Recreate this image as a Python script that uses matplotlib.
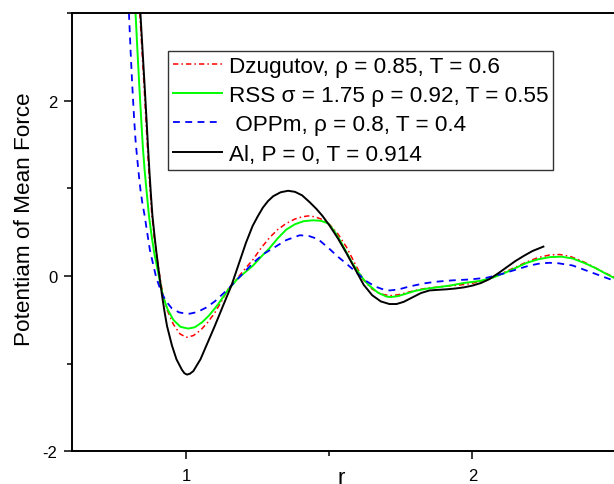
import matplotlib
matplotlib.use("Agg")
import matplotlib.pyplot as plt
from matplotlib.ticker import MultipleLocator

plt.rcParams['font.family'] = ['Liberation Sans', 'DejaVu Sans']
plt.rcParams['axes.unicode_minus'] = False

# Dzugutov, rho = 0.85, T = 0.6
r_dz = [0.838, 0.846, 0.854, 0.860, 0.865, 0.870, 0.875, 0.880, 0.888, 0.896, 0.903,
        0.911, 0.920, 0.935, 0.955, 0.978, 1.000, 1.025, 1.050, 1.075, 1.100, 1.125,
        1.146, 1.170, 1.200, 1.234, 1.262, 1.292, 1.320, 1.350, 1.380, 1.405, 1.426,
        1.450, 1.475, 1.500, 1.530, 1.560, 1.590, 1.618, 1.650, 1.680, 1.711, 1.740,
        1.770, 1.800, 1.830, 1.870, 1.910, 1.950, 1.990, 2.030, 2.070, 2.110, 2.150,
        2.190, 2.230, 2.270, 2.305, 2.340, 2.380, 2.420, 2.460, 2.500]
pmf_dz = [3.00, 2.55, 2.10, 1.75, 1.45, 1.17, 0.93, 0.70, 0.45, 0.26, 0.10,
          -0.07, -0.23, -0.40, -0.55, -0.66, -0.70, -0.68, -0.62, -0.53, -0.42, -0.28,
          -0.15, -0.06, 0.06, 0.19, 0.32, 0.44, 0.53, 0.60, 0.65, 0.675, 0.685,
          0.675, 0.645, 0.59, 0.48, 0.33, 0.14, -0.04, -0.15, -0.205, -0.225, -0.215,
          -0.19, -0.165, -0.145, -0.13, -0.115, -0.105, -0.09, -0.06, -0.02, 0.04, 0.10,
          0.16, 0.21, 0.24, 0.245, 0.225, 0.175, 0.11, 0.04, -0.02]

# RSS sigma = 1.75, rho = 0.92, T = 0.55
r_rss = [0.823, 0.830, 0.837, 0.843, 0.849, 0.855, 0.861, 0.870, 0.880, 0.889, 0.898,
         0.908, 0.919, 0.935, 0.955, 0.980, 1.007, 1.030, 1.055, 1.080, 1.110, 1.146,
         1.180, 1.205, 1.234, 1.262, 1.292, 1.320, 1.350, 1.380, 1.410, 1.443, 1.470,
         1.496, 1.520, 1.540, 1.560, 1.580, 1.600, 1.620, 1.640, 1.670, 1.700, 1.715,
         1.740, 1.770, 1.800, 1.840, 1.875, 1.920, 1.970, 2.026, 2.070, 2.110, 2.150,
         2.190, 2.230, 2.270, 2.311, 2.350, 2.390, 2.430, 2.470, 2.500]
pmf_rss = [3.00, 2.55, 2.12, 1.78, 1.45, 1.20, 0.99, 0.685, 0.44, 0.25, 0.11,
           -0.06, -0.23, -0.38, -0.50, -0.58, -0.60, -0.585, -0.53, -0.45, -0.33, -0.16,
           -0.03, 0.04, 0.12, 0.22, 0.32, 0.43, 0.53, 0.59, 0.625, 0.635, 0.63,
           0.60, 0.50, 0.39, 0.27, 0.15, 0.05, -0.04, -0.11, -0.19, -0.235, -0.24,
           -0.23, -0.20, -0.17, -0.145, -0.13, -0.11, -0.08, -0.057, -0.02, 0.03, 0.09,
           0.15, 0.19, 0.215, 0.22, 0.20, 0.15, 0.09, 0.02, -0.03]

# OPPm, rho = 0.8, T = 0.4
r_opp = [0.800, 0.806, 0.812, 0.818, 0.823, 0.828, 0.834, 0.840, 0.847, 0.855, 0.864,
         0.873, 0.882, 0.894, 0.904, 0.914, 0.930, 0.950, 0.975, 1.000, 1.013, 1.040,
         1.070, 1.100, 1.146, 1.190, 1.234, 1.270, 1.300, 1.350, 1.397, 1.430, 1.461,
         1.502, 1.530, 1.560, 1.595, 1.630, 1.660, 1.690, 1.711, 1.740, 1.780, 1.830,
         1.875, 1.930, 1.990, 2.050, 2.100, 2.150, 2.200, 2.240, 2.270, 2.300, 2.350,
         2.400, 2.450, 2.500]
pmf_opp = [3.00, 2.55, 2.15, 1.80, 1.55, 1.37, 1.17, 0.99, 0.83, 0.685, 0.49,
           0.30, 0.17, 0.00, -0.10, -0.19, -0.29, -0.37, -0.415, -0.43, -0.43, -0.41,
           -0.36, -0.29, -0.15, 0.00, 0.15, 0.25, 0.31, 0.41, 0.465, 0.455, 0.42,
           0.305, 0.22, 0.14, 0.04, -0.06, -0.12, -0.155, -0.165, -0.155, -0.12, -0.085,
           -0.065, -0.05, -0.04, -0.02, 0.02, 0.07, 0.12, 0.145, 0.15, 0.145, 0.12,
           0.06, 0.00, -0.06]

# Al, P = 0, T = 0.914
r_al = [0.840, 0.848, 0.856, 0.862, 0.867, 0.872, 0.877, 0.882, 0.890, 0.896, 0.902,
        0.909, 0.916, 0.924, 0.933, 0.950, 0.966, 0.985, 0.994, 1.003, 1.013, 1.025,
        1.050, 1.075, 1.100, 1.130, 1.158, 1.183, 1.209, 1.232, 1.250, 1.268, 1.286,
        1.304, 1.330, 1.356, 1.380, 1.405, 1.432, 1.455, 1.475, 1.500, 1.530, 1.560,
        1.590, 1.620, 1.650, 1.680, 1.710, 1.735, 1.760, 1.790, 1.820, 1.850, 1.880,
        1.910, 1.940, 1.970, 2.000, 2.030, 2.060, 2.090, 2.120, 2.150, 2.180, 2.210,
        2.248]
pmf_al = [3.00, 2.55, 2.10, 1.75, 1.45, 1.17, 0.92, 0.69, 0.44, 0.27, 0.11,
          -0.06, -0.23, -0.40, -0.57, -0.79, -0.95, -1.07, -1.11, -1.125, -1.115, -1.085,
          -0.95, -0.76, -0.57, -0.33, -0.11, 0.13, 0.38, 0.57, 0.68, 0.78, 0.855,
          0.91, 0.955, 0.972, 0.96, 0.92, 0.84, 0.765, 0.69, 0.58, 0.43, 0.26,
          0.08, -0.10, -0.22, -0.29, -0.32, -0.32, -0.295, -0.245, -0.195, -0.165, -0.158,
          -0.152, -0.143, -0.13, -0.11, -0.08, -0.035, 0.03, 0.10, 0.17, 0.23, 0.285,
          0.335]

labels = ['Dzugutov, \u03c1 = 0.85, T = 0.6',
          'RSS \u03c3 = 1.75 \u03c1 = 0.92, T = 0.55',
          ' OPPm, \u03c1 = 0.8, T = 0.4',
          'Al, P = 0, T = 0.914']

fig = plt.figure(figsize=(6.14, 4.85), dpi=100)
ax = fig.add_axes([71.7 / 614, 32.7 / 485, 543.8 / 614, 438.3 / 485])

ax.plot(r_dz, pmf_dz, color='#ff0000', lw=1.1, linestyle=(0, (3.5, 2, 1, 2)), label=labels[0])
ax.plot(r_rss, pmf_rss, color='#00ff00', lw=1.4, label=labels[1])
ax.plot(r_opp, pmf_opp, color='#0000ff', lw=1.3, linestyle=(0, (3.8, 3)), label=labels[2])
ax.plot(r_al, pmf_al, color='black', lw=1.4, label=labels[3])

ax.set_xlim(0.6, 2.5)
ax.set_ylim(-2, 3)
ax.xaxis.set_major_locator(MultipleLocator(1))
ax.xaxis.set_minor_locator(MultipleLocator(0.5))
ax.yaxis.set_major_locator(MultipleLocator(2))
ax.yaxis.set_minor_locator(MultipleLocator(1))
ax.tick_params(which='major', direction='out', length=5.8, width=1.1, labelsize=12, pad=4.5,
               top=False, right=False)
ax.tick_params(axis='x', which='major', pad=6)
ax.tick_params(which='minor', direction='out', length=3.5, width=1.1, top=False, right=False)
for sp in ax.spines.values():
    sp.set_linewidth(1.4)

fig.text(25 / 614, 1 - 219 / 485, 'Potentiam of Mean Force', rotation=90,
         ha='center', va='center', fontsize=16.2)
fig.text(341 / 614, 1 / 485, 'r', ha='center', va='baseline', fontsize=16.2)

leg = ax.legend(loc='upper left', bbox_to_anchor=(0.1764, 0.914), borderaxespad=0,
                fontsize=16.2, frameon=True, fancybox=False, edgecolor='black',
                handlelength=2.2, handletextpad=0.3, labelspacing=0.37, borderpad=0.22)
leg.get_frame().set_linewidth(1.0)

fig.savefig('out.png', dpi=100)
